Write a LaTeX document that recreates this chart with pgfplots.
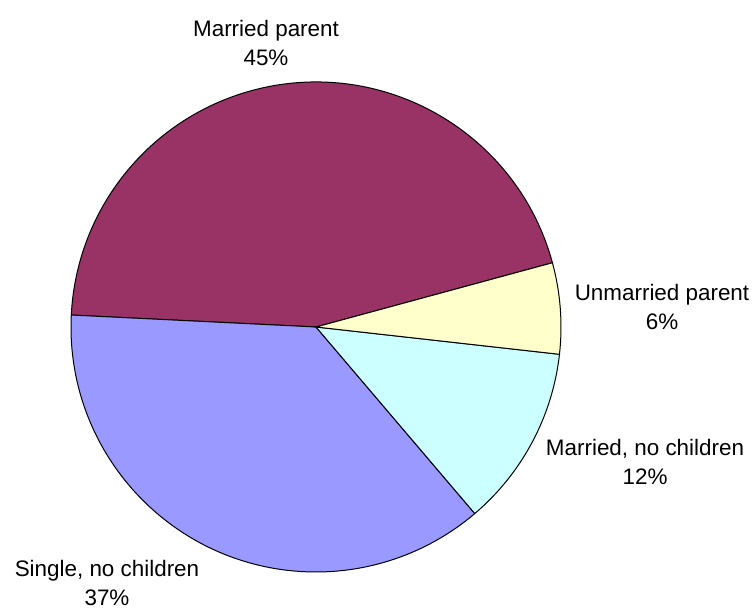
\documentclass[border=0pt]{standalone}
\usepackage{pgfplots}
\pgfplotsset{compat=1.18}
\usepackage{fontspec}
\setmainfont{Liberation Sans}
\definecolor{cMP}{HTML}{993366}
\definecolor{cUP}{HTML}{FFFFCC}
\definecolor{cMN}{HTML}{CCFFFF}
\definecolor{cSN}{HTML}{9999FF}
\begin{document}
\begin{tikzpicture}
\begin{axis}[
  width=756bp, height=612bp, scale only axis,
  xmin=0, xmax=756, ymin=0, ymax=612,
  hide axis, clip=false,
]
\path (axis cs:0,0) rectangle (axis cs:756,612);
% pie: centre (316,285), radius 245; start angle 15.2, counterclockwise
% shares (percent): Married parent 45, Single no children 37, Married no children 12, Unmarried parent 6
\def\cx{316}\def\cy{285}\def\R{245bp}
\pgfmathsetmacro{\aA}{15.2}
\pgfmathsetmacro{\aB}{\aA+45*3.6}
\pgfmathsetmacro{\aC}{\aB+37*3.6}
\pgfmathsetmacro{\aD}{\aC+12*3.6}
\pgfmathsetmacro{\aE}{\aD+6*3.6}
\edef\temp{\noexpand\filldraw[fill=cMP, draw=black, line width=1bp] (axis cs:\cx,\cy) -- ++(\aA:\R) arc[start angle=\aA, end angle=\aB, radius=\R] -- cycle;}\temp
\edef\temp{\noexpand\filldraw[fill=cSN, draw=black, line width=1bp] (axis cs:\cx,\cy) -- ++(\aB:\R) arc[start angle=\aB, end angle=\aC, radius=\R] -- cycle;}\temp
\edef\temp{\noexpand\filldraw[fill=cMN, draw=black, line width=1bp] (axis cs:\cx,\cy) -- ++(\aC:\R) arc[start angle=\aC, end angle=\aD, radius=\R] -- cycle;}\temp
\edef\temp{\noexpand\filldraw[fill=cUP, draw=black, line width=1bp] (axis cs:\cx,\cy) -- ++(\aD:\R) arc[start angle=\aD, end angle=\aE, radius=\R] -- cycle;}\temp
\tikzset{lbl/.style={align=center, font=\fontsize{22.5}{30}\selectfont, inner sep=0pt}}
\node[lbl] at (axis cs:266,569) {Married parent\\45\%};
\node[lbl] at (axis cs:662,305) {Unmarried parent\\6\%};
\node[lbl] at (axis cs:645,150) {Married, no children\\12\%};
\node[lbl] at (axis cs:107,29) {Single, no children\\37\%};
\end{axis}
\end{tikzpicture}
\end{document}
